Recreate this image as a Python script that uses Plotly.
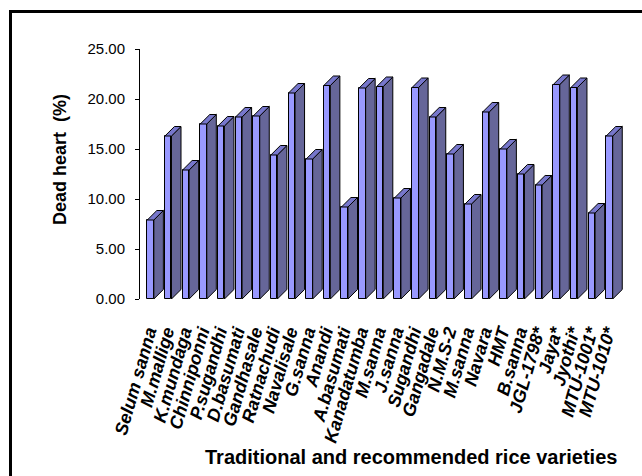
import plotly.graph_objects as go

# Dead heart incidence per rice variety
varieties = [
    "Selum sanna", "M.mallige", "K.mundaga", "Chinniponni", "P.sugandhi",
    "D.basumati", "Gandhasale", "Ratnachudi", "Navalisale", "G.sanna",
    "Anandi", "A.basumati", "Kanadatumba", "M.sanna", "J.sanna",
    "Sugandhi", "Gangadale", "N.M.S-2", "M.sanna", "Navara",
    "HMT", "B.sanna", "JGL-1798*", "Jaya*", "Jyothi*",
    "MTU-1001*", "MTU-1010*",
]
dead_heart = [
    7.9, 16.3, 12.9, 17.5, 17.3,
    18.2, 18.3, 14.4, 20.6, 14.0,
    21.35, 9.2, 21.1, 21.25, 10.1,
    21.15, 18.2, 14.5, 9.5, 18.7,
    15.0, 12.5, 11.4, 21.45, 21.15,
    8.6, 16.3,
]
y_ticks = [0, 5, 10, 15, 20, 25]

# figure geometry (pixels)
W, H = 642, 476
L, R, T, B = 140, 12, 49, 177
PW, PH = W - L - R, H - T - B

# pseudo-3D column geometry in data units
FRONT_W = 0.37   # width of the front face
DEPTH_X = 0.54   # receding offset, x
DEPTH_Y = 0.95   # receding offset, y

FRONT_C = "#9999FF"
SIDE_C = "#666699"
TOP_C = "#7777CC"
EDGE_C = "#000000"

xs = list(range(len(dead_heart)))

side_x, side_y, top_x, top_y = [], [], [], []
for i, v in zip(xs, dead_heart):
    x0, x1 = i, i + FRONT_W
    side_x += [x1, x1 + DEPTH_X, x1 + DEPTH_X, x1, x1, None]
    side_y += [0, DEPTH_Y, v + DEPTH_Y, v, 0, None]
    top_x += [x0, x1, x1 + DEPTH_X, x0 + DEPTH_X, x0, None]
    top_y += [v, v, v + DEPTH_Y, v + DEPTH_Y, v, None]

fig = go.Figure()
fig.add_trace(go.Scatter(
    x=side_x, y=side_y, mode="lines", fill="toself", fillcolor=SIDE_C,
    line=dict(color=EDGE_C, width=1), hoverinfo="skip", showlegend=False,
))
fig.add_trace(go.Scatter(
    x=top_x, y=top_y, mode="lines", fill="toself", fillcolor=TOP_C,
    line=dict(color=EDGE_C, width=1), hoverinfo="skip", showlegend=False,
))
fig.add_trace(go.Bar(
    x=[i + FRONT_W / 2 for i in xs], y=dead_heart, width=FRONT_W,
    marker=dict(color=FRONT_C, line=dict(color=EDGE_C, width=1)),
    showlegend=False,
))

x_lo = -7.3 / 17.65
x_hi = x_lo + PW / 17.65


def px_x(p):
    return (p - L) / PW


def px_y(p):
    return (T + PH - p) / PH


fig.update_layout(
    width=W, height=H,
    margin=dict(l=L, r=R, t=T, b=B),
    paper_bgcolor="white", plot_bgcolor="white",
    bargap=0,
    xaxis=dict(
        range=[x_lo, x_hi],
        tickmode="array",
        tickvals=[i + 0.05 for i in xs],
        ticktext=varieties,
        tickangle=-74,
        ticks="", showline=False, showgrid=False, zeroline=False,
        ticklabelstandoff=18,
        tickfont=dict(family="Liberation Sans, Arial, sans-serif", size=18,
                      color="black", weight="bold", style="italic"),
    ),
    yaxis=dict(
        range=[0, 25],
        tickmode="array",
        tickvals=y_ticks,
        tickformat=".2f",
        ticks="outside", ticklen=4, tickcolor="black", tickwidth=1,
        showline=True, linecolor="black", linewidth=1,
        showgrid=False, zeroline=False,
        ticklabelstandoff=7,
        tickfont=dict(family="Liberation Sans, Arial, sans-serif",
                      size=15, color="black"),
    ),
    shapes=[dict(
        type="rect", xref="paper", yref="paper",
        x0=px_x(10.5), x1=px_x(660), y0=px_y(490), y1=px_y(11.5),
        line=dict(color="black", width=3), fillcolor="rgba(0,0,0,0)",
    )],
    annotations=[
        dict(
            text="Dead heart  (%)", textangle=-90,
            xref="paper", yref="paper", x=px_x(60), y=px_y(160),
            xanchor="center", yanchor="middle", showarrow=False,
            font=dict(family="Liberation Sans, Arial, sans-serif", size=18,
                      color="black", weight="bold"),
        ),
        dict(
            text="Traditional and recommended rice varieties",
            xref="paper", yref="paper", x=px_x(411), y=px_y(457),
            xanchor="center", yanchor="middle", showarrow=False,
            font=dict(family="Liberation Sans, Arial, sans-serif",
                      size=20, color="black", weight="bold"),
        ),
    ],
)

fig.write_html("out.html")
